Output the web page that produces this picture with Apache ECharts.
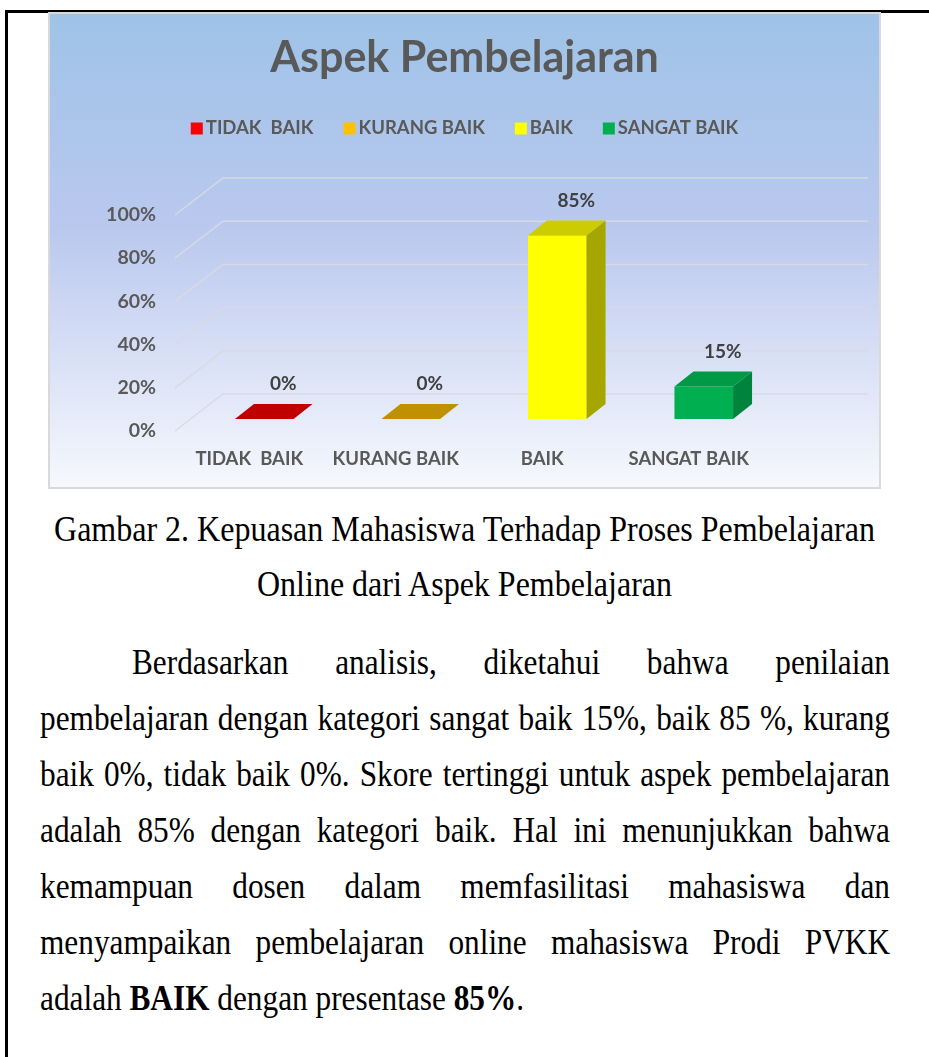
<!DOCTYPE html>
<html><head><meta charset="utf-8">
<script src="https://cdn.jsdelivr.net/npm/echarts@6/dist/echarts.min.js"></script>
<style>
html,body{margin:0;padding:0;background:#fff;}
body{width:929px;height:1057px;position:relative;overflow:hidden;font-family:"Liberation Serif","Times New Roman",serif;color:#000;}
#frameTop{position:absolute;left:5px;top:10px;width:924px;height:3px;background:#000;}
#frameLeft{position:absolute;left:5px;top:10px;width:3px;height:1047px;background:#000;}
#box{position:absolute;left:48px;top:12px;width:833px;height:477px;border:2px solid #D9D9D9;box-sizing:border-box;}
#chart{width:829px;height:473px;}
.cap{position:absolute;left:0;width:929px;text-align:center;font-size:32px;line-height:40px;white-space:nowrap;transform:scaleY(1.12);transform-origin:0 31px;}
.ln{position:absolute;left:40px;width:850px;font-size:31.3px;line-height:40px;text-align:justify;text-align-last:justify;transform:scaleY(1.12);transform-origin:0 31px;}
.ln.last{text-align:left;text-align-last:left;}
</style></head>
<body>
<div id="frameTop"></div><div id="frameLeft"></div>
<div id="box"><div id="chart"></div></div>
<div class="cap" style="top:510px">Gambar 2. Kepuasan Mahasiswa Terhadap Proses Pembelajaran</div>
<div class="cap" style="top:565px">Online dari Aspek Pembelajaran</div>
<div class="ln" style="top:644px;left:132px;width:758px">Berdasarkan analisis, diketahui bahwa penilaian</div>
<div class="ln" style="top:700px">pembelajaran dengan kategori sangat baik 15%, baik 85 %, kurang</div>
<div class="ln" style="top:756px">baik 0%, tidak baik 0%. Skore tertinggi untuk aspek pembelajaran</div>
<div class="ln" style="top:812px">adalah 85% dengan kategori baik. Hal ini menunjukkan bahwa</div>
<div class="ln" style="top:868px">kemampuan dosen dalam memfasilitasi mahasiswa dan</div>
<div class="ln" style="top:924px">menyampaikan pembelajaran online mahasiswa Prodi PVKK</div>
<div class="ln last" style="top:980px">adalah <b>BAIK</b> dengan presentase <b>85%</b>.</div>
<script>
const categories = ['TIDAK  BAIK', 'KURANG BAIK', 'BAIK', 'SANGAT BAIK'];
const values = [0, 0, 85, 15];
const yTicks = [0, 20, 40, 60, 80, 100];

const seriesColors = ['#FF0000', '#FFC000', '#FFFF00', '#00B050'];
const topColors = ['#C00000', '#BF9000', '#CCCC00', '#009A46'];
const sideColors = ['#A00000', '#9C7600', '#A6A600', '#00843D'];

const chart = echarts.init(document.getElementById('chart'));
const DX = 19, DY = -15;      // bar depth
const OX = 15, OY = -12;      // front face offset from front plane
const GDX = 48, GDY = -37;    // gridline back-plane offset

function renderBar(params, api) {
  const i = api.value(0), v = api.value(1);
  const s = params.seriesIndex - 1;
  const base = api.coord([i, 0]);
  const top = api.coord([i, v]);
  const bw = api.size([1, 0])[0] * 0.4;
  const xl = base[0] + OX - bw / 2, xr = xl + bw;
  const yb = base[1] + OY, yt = top[1] + OY;
  const children = [];
  if (yb - yt > 0.5) {
    children.push({type: 'rect', shape: {x: xl, y: yt, width: bw, height: yb - yt}, style: {fill: seriesColors[s]}});
    children.push({type: 'polygon', shape: {points: [[xr, yb], [xr, yt], [xr + DX, yt + DY], [xr + DX, yb + DY]]}, style: {fill: sideColors[s]}});
  }
  children.push({type: 'polygon', shape: {points: [[xl, yt], [xr, yt], [xr + DX, yt + DY], [xl + DX, yt + DY]]}, style: {fill: topColors[s]}});
  children.push({type: 'text', style: {text: v + '%', x: xl + bw / 2 + DX, y: yt + DY - 20, align: 'center', verticalAlign: 'middle',
    fontFamily: 'Lato', fontWeight: 'bold', fontSize: 19, fill: '#404040'}});
  return {type: 'group', children: children};
}

function renderGrid(params, api) {
  const cs = params.coordSys;
  const y = api.coord([0, api.value(1)])[1];
  const x0 = cs.x - 1;
  return {type: 'polyline', shape: {points: [[x0, y], [x0 + GDX, y + GDY], [cs.x + cs.width + 106, y + GDY]]},
    style: {stroke: 'rgba(215,218,226,0.95)', lineWidth: 1.5, fill: null}};
}

const series = [{
  type: 'custom', name: 'grid', silent: true, renderItem: renderGrid,
  data: yTicks.map(t => [0, t]), encode: {x: 0, y: 1}, z: 1
}];
categories.forEach((c, i) => {
  series.push({
    type: 'custom', name: c, renderItem: renderBar,
    itemStyle: {color: seriesColors[i]},
    data: [[i, values[i]]], encode: {x: 0, y: 1}, z: 2
  });
});

chart.setOption({
  animation: false,
  backgroundColor: new echarts.graphic.LinearGradient(0, 0, 0, 1, [
    {offset: 0, color: '#9EC3E7'}, {offset: 0.45, color: '#BAC8EE'}, {offset: 1, color: '#F6F8FD'}
  ]),
  title: {
    text: 'Aspek Pembelajaran', left: 'center', top: 18,
    textStyle: {fontFamily: 'Lato', fontWeight: 'bold', fontSize: 43, color: '#595959'}
  },
  legend: {
    data: categories, top: 100, left: 'center', itemGap: 30, itemWidth: 12, itemHeight: 12, icon: 'rect',
    textStyle: {fontFamily: 'Lato', fontWeight: 'bold', fontSize: 18.5, color: '#595959', padding: [0, 0, 0, -2]}
  },
  grid: {left: 126, top: 201, width: 586, bottom: 56},
  xAxis: {
    type: 'category', data: categories,
    axisLine: {show: false}, axisTick: {show: false}, splitLine: {show: false},
    axisLabel: {interval: 0, hideOverlap: false, margin: 19, fontFamily: 'Lato', fontWeight: 'bold', fontSize: 18.5, color: '#595959'}
  },
  yAxis: {
    type: 'value', min: 0, max: 100, interval: 20,
    axisLine: {show: false}, axisTick: {show: false}, splitLine: {show: false},
    axisLabel: {formatter: '{value}%', margin: 20, fontFamily: 'Lato', fontWeight: 'bold', fontSize: 19.5, color: '#595959'}
  },
  series: series
});
</script>
</body></html>
